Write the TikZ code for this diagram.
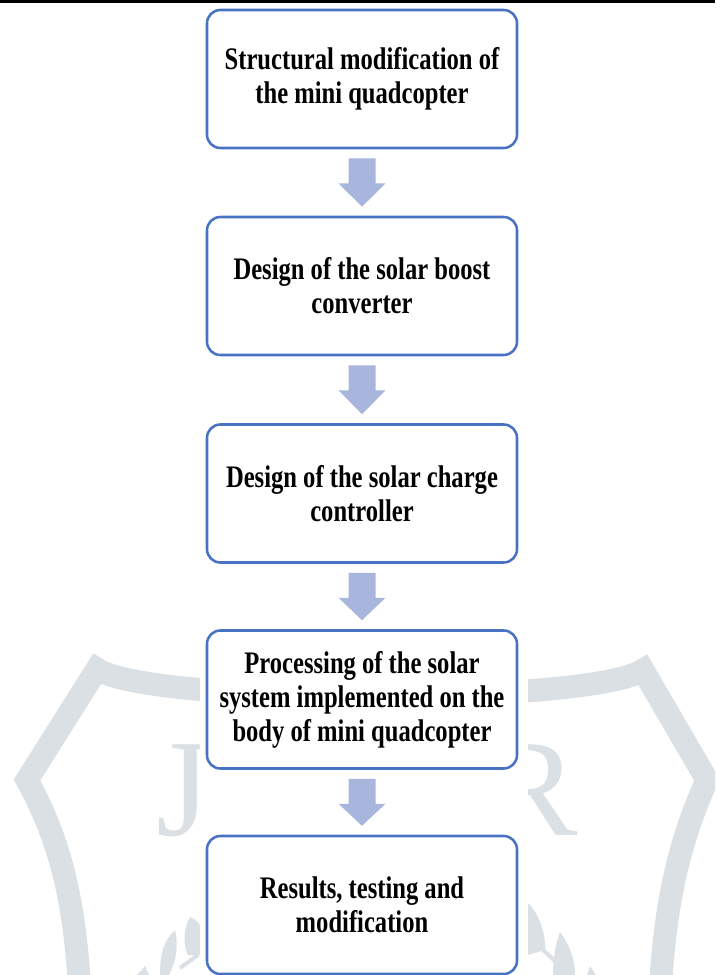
\documentclass[tikz,border=0pt]{standalone}
\usepackage{fontspec}
\usetikzlibrary{calc}
\newfontfamily\boxfont[FakeStretch=0.785]{Liberation Serif}
\newfontfamily\markfont{Liberation Serif}
\definecolor{boxblue}{RGB}{72,114,196}
\definecolor{arrowblue}{RGB}{168,182,222}
\definecolor{markgray}{RGB}{218,224,228}
\newcommand{\flowarrow}[2]{%
  \fill[arrowblue] ($(#1.south)+(-13.5,9)$) -- ($(#1.south)+(13.5,9)$) -- ($(#1.south)+(13.5,34)$)
    -- ($(#1.south)+(23.5,34)$) -- ($(#2.north)+(0,-9)$) -- ($(#1.south)+(-23.5,34)$)
    -- ($(#1.south)+(-13.5,34)$) -- cycle;}
\begin{document}
\begin{tikzpicture}[x=0.75pt,y=-0.75pt,
  stepbox/.style={draw=boxblue, line width=1.9pt, rounded corners=10pt, fill=white,
    minimum width=232.5pt, minimum height=103.5pt, inner sep=0pt, align=center,
    font=\boxfont\bfseries\fontsize{23.5}{25.5}\selectfont},
  mark/.style={fill=markgray, draw=none}]
\useasboundingbox (0,0) rectangle (715,975);
\begin{scope}
\clip (0,0) rectangle (715,975);
% watermark shield
\draw[markgray, line width=17.25pt, line join=miter]
  (80,995) .. controls (75,900) and (60,840) .. (27,780) -- (97,669)
  .. controls (150,705) and (590,705) .. (643,670) -- (707,780)
  .. controls (680,840) and (665,900) .. (660,995);
\node[text=markgray, font=\markfont\fontsize{104}{104}\selectfont, anchor=base west, inner sep=0pt] (wj) at (156,835) {J};
\node[text=markgray, font=\markfont\fontsize{104}{104}\selectfont, anchor=base east, inner sep=0pt] (wr) at (578,835) {R};
% watermark leaves
\fill[markgray] (160,975) .. controls (160,950) and (165,940) .. (175,930) .. controls (179,945) and (176,962) .. (169,975) -- cycle;
\fill[markgray] (190,917) .. controls (183,930) and (183,945) .. (188,955) -- (200,955) -- (200,925) .. controls (196,920) .. (190,917);
\draw[markgray, line width=3pt] (198,955) -- (180,968);
\fill[markgray] (137,975) -- (145,966) -- (149,975) -- cycle;
\fill[markgray] (528,903) .. controls (540,915) and (546,935) .. (545,950) -- (528,955) -- cycle;
\draw[markgray, line width=3pt] (543,950) -- (556,962);
\fill[markgray] (560,932) .. controls (570,945) and (575,960) .. (575,975) -- (553,975) .. controls (553,960) and (555,945) .. (560,932);
\fill[markgray] (590,966) -- (596,975) -- (587,975) -- cycle;
% white pasted area
\fill[white] (200,3) rectangle (528,975);
\end{scope}
% top rule
\fill[black] (0,0) rectangle (715,2.7);
% boxes
\node[stepbox] (b1) at (362,79) {Structural modification of\\the mini quadcopter};
\node[stepbox] (b2) at (362,286) {Design of the solar boost\\converter};
\node[stepbox] (b3) at (362,493.5) {Design of the solar charge\\controller};
\node[stepbox] (b4) at (362,699.5) {Processing of the solar\\system implemented on the\\body of mini quadcopter};
\node[stepbox] (b5) at (362,905) {Results, testing and\\modification};
% arrows
\flowarrow{b1}{b2}
\flowarrow{b2}{b3}
\flowarrow{b3}{b4}
\flowarrow{b4}{b5}
\end{tikzpicture}
\end{document}
